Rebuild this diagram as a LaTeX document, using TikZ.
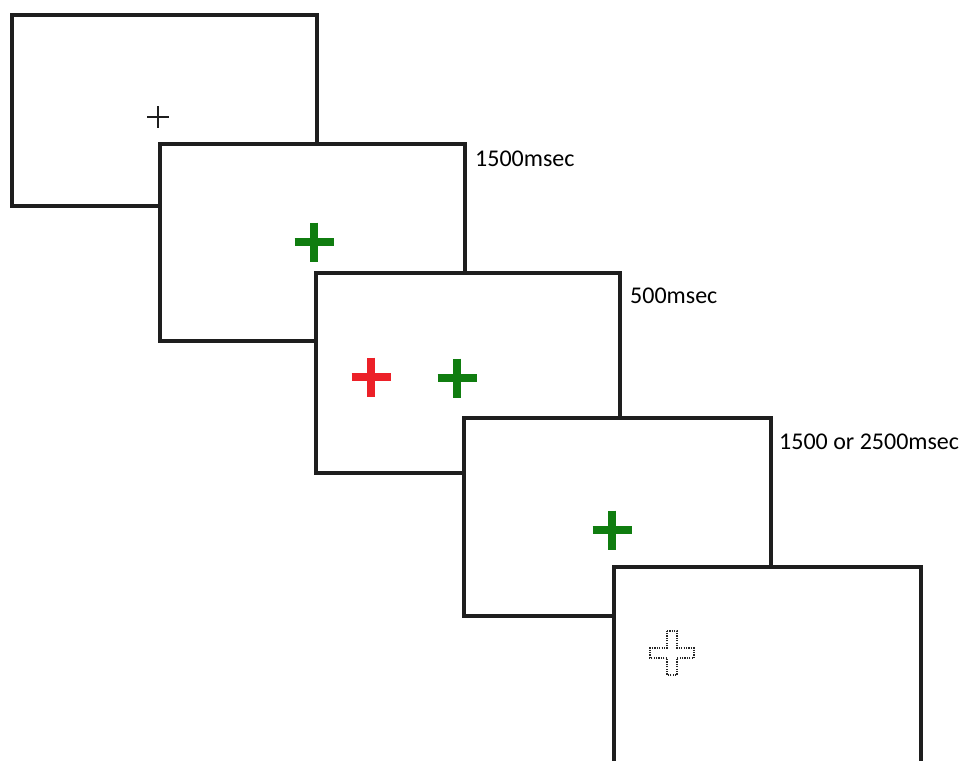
\documentclass[tikz,border=0pt]{standalone}
\usepackage{fontspec}
\setmainfont{Carlito}
\definecolor{frameink}{RGB}{30,30,30}
\definecolor{cuegreen}{RGB}{16,125,16}
\definecolor{cuered}{RGB}{236,32,40}
\tikzset{
  screen/.style={draw=frameink, fill=white, line width=4pt, line join=miter,
    inner sep=0pt, outer sep=0pt, anchor=north west},
  timing/.style={font=\fontsize{24}{26}\selectfont, anchor=west, inner sep=0pt},
  bigcross/.style={line width=8pt, line cap=butt},
  hollowcross/.style={draw=black!85, line width=1.8pt, dash pattern=on 1.2pt off 1.2pt}
}
\newcommand{\plusmark}[4]{% centre x, centre y, half arm, style
  \draw[#4] (#1-#3,#2) -- (#1+#3,#2) (#1,#2-#3) -- (#1,#2+#3);}
\begin{document}
\begin{tikzpicture}[x=1pt,y=-1pt]
\useasboundingbox (0,0) rectangle (963,760);
\clip (0,0) rectangle (963,760);
% the stack of screens, front one last
\node[screen, minimum width=305pt, minimum height=191pt] (s1) at (12,15) {};
\node[screen, minimum width=305pt, minimum height=197pt] (s2) at (160,144) {};
\node[screen, minimum width=304pt, minimum height=200pt] (s3) at (316,273) {};
\node[screen, minimum width=307pt, minimum height=198pt] (s4) at (464,418) {};
\node[screen, minimum width=307pt, minimum height=210pt] (s5) at (614,567) {};
% fixation and cue crosses
\plusmark{158}{117}{11}{line width=2.8pt, frameink}
\plusmark{314}{242}{19.5}{bigcross, cuegreen}
\plusmark{371}{377}{19.5}{bigcross, cuered}
\plusmark{457}{378}{19.5}{bigcross, cuegreen}
\plusmark{612}{530}{19.5}{bigcross, cuegreen}
\draw[hollowcross] (672,653) ++(-5,-22) -- ++(10,0) -- ++(0,17) -- ++(17,0)
  -- ++(0,10) -- ++(-17,0) -- ++(0,17) -- ++(-10,0) -- ++(0,-17) -- ++(-17,0)
  -- ++(0,-10) -- ++(17,0) -- cycle;
% durations
\node[timing] (t1) at ([xshift=10pt,yshift=-15pt]s2.north east) {1500msec};
\node[timing] (t2) at ([xshift=10pt,yshift=-23pt]s3.north east) {500msec};
\node[timing] (t3) at ([xshift=8pt,yshift=-24pt]s4.north east) {1500 or 2500msec};
\end{tikzpicture}
\end{document}
